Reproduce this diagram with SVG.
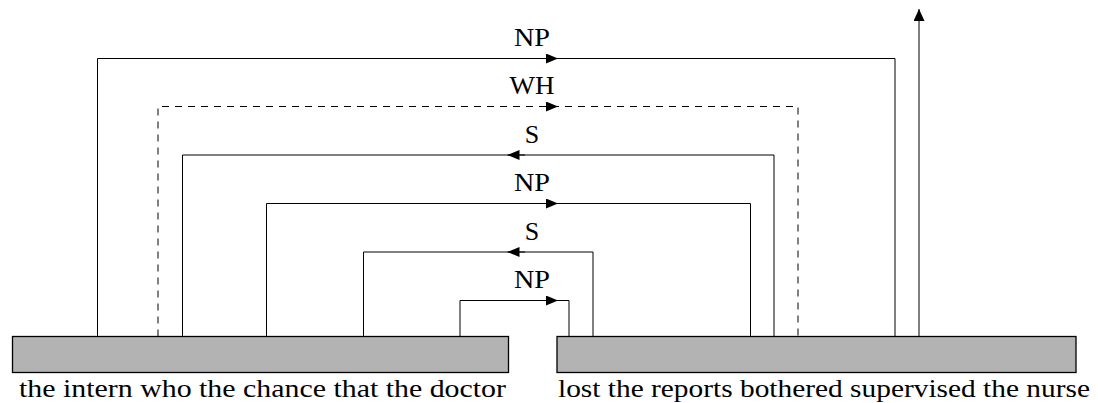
<svg xmlns="http://www.w3.org/2000/svg" width="1098" height="403" viewBox="0 0 1098 403">
<style>
.box{fill:#b3b3b3;stroke:#000;stroke-width:1.3}
.ln{fill:none;stroke:#000;stroke-width:1}
.dash{stroke-dasharray:7 6}
.lbl{font-family:"Liberation Serif","DejaVu Serif",serif;font-size:26px;fill:#000;text-anchor:middle}
.txt{font-family:"Liberation Serif","DejaVu Serif",serif;font-size:26px;fill:#000}
</style>
<defs>
<marker id="ah" markerUnits="userSpaceOnUse" viewBox="0 0 12 10" refX="12" refY="5" markerWidth="12" markerHeight="10" orient="auto">
<path d="M0,0 L12,5 L0,10 Z" fill="#000"/>
</marker>
<marker id="ahv" markerUnits="userSpaceOnUse" viewBox="0 0 12 11" refX="12" refY="5.5" markerWidth="12" markerHeight="11" orient="auto">
<path d="M0,0 L12,5.5 L0,11 Z" fill="#000"/>
</marker>
</defs>
<g id="connectors">
<path class="ln" d="M97.5 336.5 V58.5 H895 V336.5"/>
<path class="ln" d="M540 58.5 H558" marker-end="url(#ah)"/>
<path class="ln dash" d="M158 336.5 V106.5 H798 V336.5"/>
<path class="ln" d="M545 106.5 H558" marker-end="url(#ah)"/>
<path class="ln" d="M182.5 336.5 V155 H774 V336.5"/>
<path class="ln" d="M525 155 H507.5" marker-end="url(#ah)"/>
<path class="ln" d="M266.5 336.5 V203.5 H750.5 V336.5"/>
<path class="ln" d="M540 203.5 H558" marker-end="url(#ah)"/>
<path class="ln" d="M363.5 336.5 V252 H593 V336.5"/>
<path class="ln" d="M525 252 H507.5" marker-end="url(#ah)"/>
<path class="ln" d="M460 336.5 V300.5 H569 V336.5"/>
<path class="ln" d="M540 300.5 H558" marker-end="url(#ah)"/>
<path class="ln" d="M919 336.5 V9" marker-end="url(#ahv)"/>
</g>
<g id="labels">
<text class="lbl" x="532" y="46" textLength="36" lengthAdjust="spacingAndGlyphs">NP</text>
<text class="lbl" x="532" y="94" textLength="45" lengthAdjust="spacingAndGlyphs">WH</text>
<text class="lbl" x="532" y="142.5">S</text>
<text class="lbl" x="532" y="190.5" textLength="36" lengthAdjust="spacingAndGlyphs">NP</text>
<text class="lbl" x="532" y="239.5">S</text>
<text class="lbl" x="532" y="288" textLength="36" lengthAdjust="spacingAndGlyphs">NP</text>
</g>
<g id="left-segment">
<rect class="box" x="12.5" y="336.5" width="496" height="36"/>
<text class="txt" x="19" y="396.5" textLength="487" lengthAdjust="spacingAndGlyphs">the intern who the chance that the doctor</text>
</g>
<g id="right-segment">
<rect class="box" x="557" y="336.5" width="519" height="36"/>
<text class="txt" x="558" y="396.5" textLength="532" lengthAdjust="spacingAndGlyphs">lost the reports bothered supervised the nurse</text>
</g>
</svg>
